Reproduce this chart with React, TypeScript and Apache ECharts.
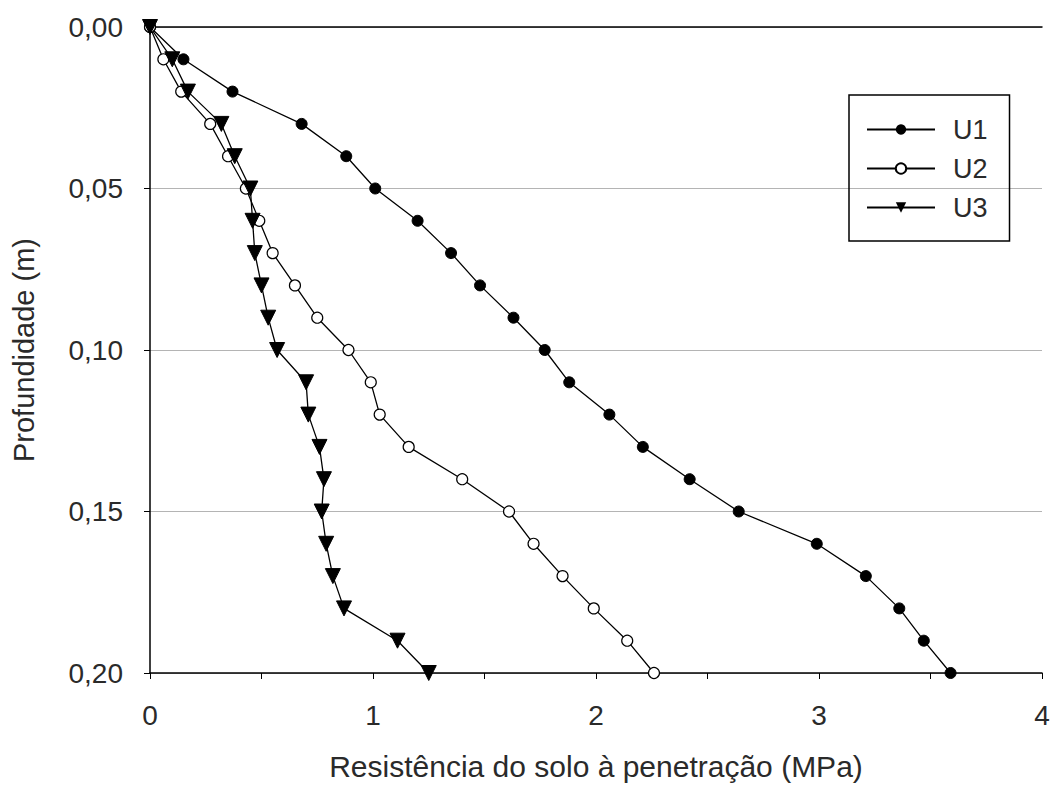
import React, { useEffect, useRef } from "react";
import * as echarts from "echarts";

const depths = [0, 0.01, 0.02, 0.03, 0.04, 0.05, 0.06, 0.07, 0.08, 0.09, 0.1, 0.11, 0.12, 0.13, 0.14, 0.15, 0.16, 0.17, 0.18, 0.19, 0.2];
const u1 = [0, 0.15, 0.37, 0.68, 0.88, 1.01, 1.2, 1.35, 1.48, 1.63, 1.77, 1.88, 2.06, 2.21, 2.42, 2.64, 2.99, 3.21, 3.36, 3.47, 3.59];
const u2 = [0, 0.06, 0.14, 0.27, 0.35, 0.43, 0.49, 0.55, 0.65, 0.75, 0.89, 0.99, 1.03, 1.16, 1.4, 1.61, 1.72, 1.85, 1.99, 2.14, 2.26];
const u3 = [0, 0.1, 0.17, 0.32, 0.38, 0.45, 0.46, 0.47, 0.5, 0.53, 0.57, 0.7, 0.71, 0.76, 0.78, 0.77, 0.79, 0.82, 0.87, 1.11, 1.25];
const seriesNames = ["U1", "U2", "U3"];
const xTitle = "Resistência do solo à penetração (MPa)";
const yTitle = "Profundidade (m)";

const FONT = "'Liberation Sans', Arial, sans-serif";
const TXT = "#2a2a2a";

export default function App() {
  const ref = useRef<HTMLDivElement>(null);
  useEffect(() => {
    document.body.style.margin = "0";
    const chart = echarts.init(ref.current!, null, { renderer: "svg" });
    const mk = (vals: number[]) => vals.map((v, i) => [v, depths[i]]);
    const lineBase = { type: "line", xAxisIndex: 0, yAxisIndex: 0, lineStyle: { color: "#000", width: 1.3 }, z: 3 };
    chart.setOption({
      animation: false,
      backgroundColor: "#fff",
      textStyle: { fontFamily: FONT },
      grid: { left: 150, right: 12, top: 27, bottom: 114, containLabel: false, outerBoundsMode: "none" },
      legend: {
        orient: "vertical",
        left: 849,
        top: 95,
        data: seriesNames,
        itemWidth: 68,
        itemHeight: 13,
        itemGap: 12,
        padding: [21, 22, 20, 17],
        borderColor: "#000",
        borderWidth: 1.5,
        textStyle: { fontSize: 27, color: TXT, fontFamily: FONT, padding: [0, 0, 0, 13] },
      },
      xAxis: [
        {
          type: "value",
          position: "bottom",
          min: 0,
          max: 4,
          interval: 1,
          name: xTitle,
          nameLocation: "middle",
          nameGap: 78,
          nameTextStyle: { fontSize: 30, color: TXT, fontFamily: FONT },
          axisLine: { show: true, onZero: false, lineStyle: { color: "#000", width: 1.5 } },
          axisTick: { show: true, length: 6, lineStyle: { color: "#000" } },
          minorTick: { show: true, splitNumber: 2, length: 6, lineStyle: { color: "#000" } },
          axisLabel: { fontSize: 28, color: TXT, margin: 28, fontFamily: FONT },
          splitLine: { show: false },
        },
        {
          type: "value",
          position: "top",
          min: 0,
          max: 4,
          interval: 1,
          axisLine: { show: true, onZero: false, lineStyle: { color: "#000", width: 1.5 } },
          axisTick: { show: false },
          axisLabel: { show: false },
          splitLine: { show: false },
        },
      ],
      yAxis: {
        type: "value",
        inverse: true,
        min: 0,
        max: 0.2,
        interval: 0.05,
        name: yTitle,
        nameLocation: "middle",
        nameGap: 112,
        nameTextStyle: { fontSize: 29, color: TXT, fontFamily: FONT },
        axisLine: { show: true, onZero: false, lineStyle: { color: "#000", width: 1.5 } },
        axisTick: { show: true, length: 6, lineStyle: { color: "#000" } },
        axisLabel: {
          fontSize: 28,
          color: TXT,
          margin: 27,
          fontFamily: FONT,
          formatter: (v: number) => v.toFixed(2).replace(".", ","),
        },
        splitLine: { show: true, lineStyle: { color: "#b4b4b4", width: 1 } },
      },
      series: [
        {
          ...lineBase,
          name: seriesNames[0],
          data: mk(u1),
          symbol: "circle",
          symbolSize: 11,
          itemStyle: { color: "#000", borderColor: "#000" },
        },
        {
          ...lineBase,
          name: seriesNames[1],
          data: mk(u2),
          symbol: "circle",
          symbolSize: 11,
          itemStyle: { color: "#fff", borderColor: "#000", borderWidth: 1.2 },
        },
        {
          ...lineBase,
          name: seriesNames[2],
          data: mk(u3),
          symbol: "triangle",
          symbolRotate: 180,
          symbolSize: 15,
          itemStyle: { color: "#000", borderColor: "#000" },
        },
      ],
    });
    return () => chart.dispose();
  }, []);
  return <div ref={ref} style={{ width: 1054, height: 787 }} />;
}
